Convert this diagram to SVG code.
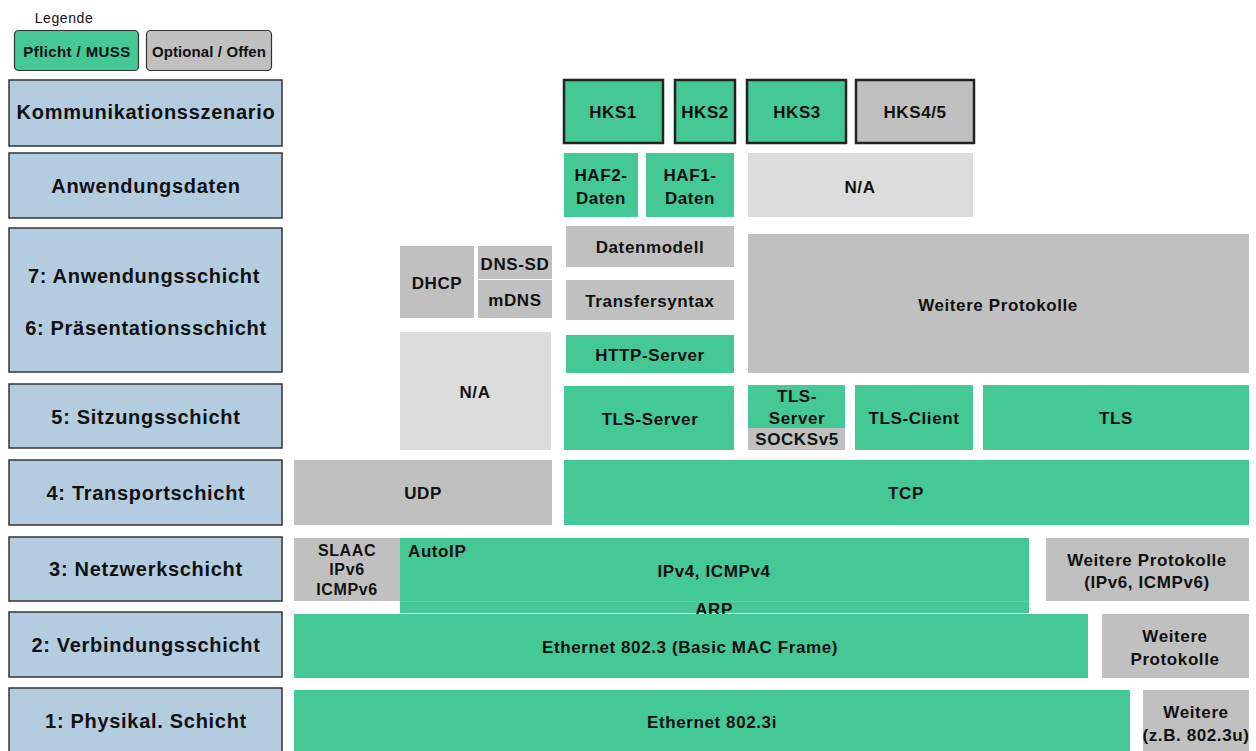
<svg xmlns="http://www.w3.org/2000/svg" width="1256" height="751" viewBox="0 0 1256 751">
<style>
text{font-family:"Liberation Sans",Arial,sans-serif;font-weight:bold;fill:#111;text-anchor:middle;dominant-baseline:central}
.t{font-size:17px;letter-spacing:0.6px}
.s{font-size:16px;letter-spacing:0.6px}
.l{font-size:20px;letter-spacing:0.7px}
.layer{fill:#b4cce0;stroke:#333;stroke-width:1.5}
.g{fill:#44c896}
.o{fill:#c0c0c0}
.na{fill:#dcdcdc}
.hk{stroke:#222;stroke-width:2.5}
</style>
<g id="legend">
<text x="64" y="18" style="font-size:14px;font-weight:normal;letter-spacing:0.6px">Legende</text>
<rect x="14.5" y="30.5" width="124" height="40" rx="4" class="g" stroke="#333" stroke-width="1.2"/>
<text x="77" y="51" style="font-size:15px;letter-spacing:0.4px">Pflicht / MUSS</text>
<rect x="146.5" y="30.5" width="125" height="40" rx="4" class="o" stroke="#333" stroke-width="1.2"/>
<text x="209" y="51" style="font-size:15px;letter-spacing:0.1px">Optional / Offen</text>
</g>
<g id="layers">
<g id="L-ks"><rect x="9" y="80" width="273" height="66" class="layer"/><text x="146" y="112" class="l">Kommunikationsszenario</text></g>
<g id="L-ad"><rect x="9" y="153" width="273" height="65" class="layer"/><text x="146" y="186" class="l">Anwendungsdaten</text></g>
<g id="L-76"><rect x="9" y="228" width="273" height="144" class="layer"/><text x="144" y="276" class="l">7: Anwendungsschicht</text><text x="146" y="328" class="l">6: Präsentationsschicht</text></g>
<g id="L-5"><rect x="9" y="384" width="273" height="64" class="layer"/><text x="146" y="417" class="l">5: Sitzungsschicht</text></g>
<g id="L-4"><rect x="9" y="460" width="273" height="65" class="layer"/><text x="146" y="493" class="l">4: Transportschicht</text></g>
<g id="L-3"><rect x="9" y="537" width="273" height="64" class="layer"/><text x="146" y="569" class="l">3: Netzwerkschicht</text></g>
<g id="L-2"><rect x="9" y="612" width="273" height="65" class="layer"/><text x="146" y="645" class="l">2: Verbindungsschicht</text></g>
<g id="L-1"><rect x="9" y="688" width="273" height="70" class="layer"/><text x="146" y="721" class="l">1: Physikal. Schicht</text></g>
</g>
<g id="hks">
<g id="hks1"><rect x="564" y="80" width="99" height="63" class="g hk"/><text x="613" y="112" class="t">HKS1</text></g>
<g id="hks2"><rect x="675" y="80" width="60" height="63" class="g hk"/><text x="705" y="112" class="t">HKS2</text></g>
<g id="hks3"><rect x="747" y="80" width="99" height="63" class="g hk"/><text x="797" y="112" class="t">HKS3</text></g>
<g id="hks45"><rect x="856" y="80" width="118" height="63" class="o hk"/><text x="915" y="112" class="t">HKS4/5</text></g>
</g>
<g id="appdata">
<g id="haf2"><rect x="564" y="153" width="74" height="64" class="g"/><text x="601" y="175" class="t">HAF2-</text><text x="601" y="198" class="t">Daten</text></g>
<g id="haf1"><rect x="646" y="153" width="88" height="64" class="g"/><text x="690" y="175" class="t">HAF1-</text><text x="690" y="198" class="t">Daten</text></g>
<g id="na1"><rect x="748" y="153" width="225" height="64" class="na"/><text x="860" y="187" class="t">N/A</text></g>
</g>
<g id="l76">
<g id="datenmodell"><rect x="566" y="226" width="168" height="41" class="o"/><text x="650" y="247" class="t">Datenmodell</text></g>
<g id="transfersyntax"><rect x="566" y="280" width="168" height="40" class="o"/><text x="650" y="301" class="t">Transfersyntax</text></g>
<g id="http"><rect x="566" y="335" width="168" height="38" class="g"/><text x="650" y="355" class="t">HTTP-Server</text></g>
<g id="weitere7"><rect x="748" y="234" width="501" height="139" class="o"/><text x="998" y="305" class="t">Weitere Protokolle</text></g>
<g id="dhcp"><rect x="400" y="246" width="74" height="72" class="o"/><text x="437" y="283" class="t">DHCP</text></g>
<g id="dnssd"><rect x="478" y="246" width="74" height="33" class="o"/><text x="515" y="264" class="t">DNS-SD</text></g>
<g id="mdns"><rect x="478" y="280" width="74" height="38" class="o"/><text x="515" y="300" class="t">mDNS</text></g>
<g id="na2"><rect x="400" y="332" width="151" height="118" class="na"/><text x="475" y="392" class="t">N/A</text></g>
</g>
<g id="l5">
<g id="tlsserver"><rect x="564" y="386" width="170" height="64" class="g"/><text x="650" y="419" class="t">TLS-Server</text></g>
<g id="tlsserver2"><rect x="748" y="385" width="97" height="43" class="g"/><text x="797" y="396" class="t">TLS-</text><text x="797" y="418" class="t">Server</text></g>
<g id="socks"><rect x="748" y="428" width="97" height="22" class="o"/><text x="797" y="439" class="t">SOCKSv5</text></g>
<g id="tlsclient"><rect x="855" y="385" width="118" height="65" class="g"/><text x="914" y="418" class="t">TLS-Client</text></g>
<g id="tls"><rect x="983" y="385" width="266" height="65" class="g"/><text x="1116" y="418" class="t">TLS</text></g>
</g>
<g id="l4">
<g id="udp"><rect x="294" y="460" width="258" height="65" class="o"/><text x="423" y="493" class="t">UDP</text></g>
<g id="tcp"><rect x="564" y="460" width="685" height="65" class="g"/><text x="906" y="493" class="t">TCP</text></g>
</g>
<g id="l3">
<g id="slaac"><rect x="294" y="538" width="106" height="63" class="o"/><text x="347" y="550" class="s">SLAAC</text><text x="347" y="569" class="s">IPv6</text><text x="347" y="589" class="s">ICMPv6</text></g>
<g id="ipv4"><rect x="400" y="538" width="629" height="75" class="g"/><line x1="400" y1="601.5" x2="1029" y2="601.5" stroke="#5fd0a5" stroke-width="1"/><text x="408" y="551" class="t" style="text-anchor:start">AutoIP</text><text x="714" y="571" class="t">IPv4, ICMPv4</text><text x="714" y="609" class="t">ARP</text></g>
<g id="weitere3"><rect x="1046" y="538" width="203" height="63" class="o"/><text x="1147" y="560" class="t">Weitere Protokolle</text><text x="1147" y="582" class="t">(IPv6, ICMPv6)</text></g>
</g>
<g id="l2">
<g id="eth"><rect x="294" y="614" width="794" height="64" class="g"/><text x="690" y="647" class="t">Ethernet 802.3 (Basic MAC Frame)</text></g>
<g id="weitere2"><rect x="1102" y="614" width="147" height="64" class="o"/><text x="1175" y="636" class="t">Weitere</text><text x="1175" y="659" class="t">Protokolle</text></g>
</g>
<g id="l1">
<g id="eth3i"><rect x="294" y="690" width="836" height="61" class="g"/><text x="712" y="722" class="t">Ethernet 802.3i</text></g>
<g id="weitere1"><rect x="1143" y="690" width="106" height="61" class="o"/><text x="1196" y="712" class="t">Weitere</text><text x="1196" y="735" class="t">(z.B. 802.3u)</text></g>
</g>
<g id="connectors"/>
</svg>
